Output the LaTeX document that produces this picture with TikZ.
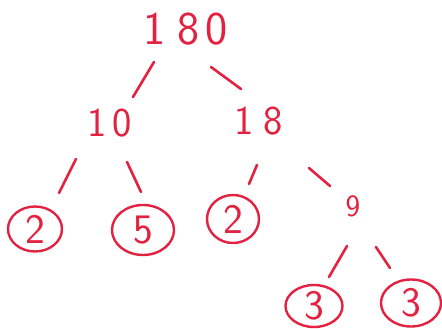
\documentclass[tikz,border=0pt]{standalone}
\usepackage{fontspec}
\usetikzlibrary{shapes.geometric}
\definecolor{ink}{RGB}{226,34,64}
\begin{document}
\begin{tikzpicture}[x=1pt,y=-1pt,
  num/.style={text=ink,font=\sffamily\fontsize{#1}{#1}\selectfont,inner sep=0pt},
  ring/.style={draw=ink,line width=2.4pt,ellipse,text=ink,font=\sffamily\fontsize{42}{42}\selectfont,inner sep=0pt},
  edge/.style={draw=ink,line width=2.6pt,line cap=round}]
\useasboundingbox (0,0) rectangle (442,329);
% numbers
\node[num=47] (n180) at (186,29) {1\kern12pt8\kern6pt0};
\node[num=41] (n10) at (110,123) {1\kern6pt0};
\node[num=41] (n18) at (259,121) {1\kern10pt8};
\node[num=31] (n9) at (353,206) {9};
\node[ring,minimum width=54pt,minimum height=45pt] (a2) at (35,229) {2};
\node[ring,minimum width=62pt,minimum height=50pt] (a5) at (143,230) {5};
\node[ring,minimum width=52pt,minimum height=48pt] (b2) at (233,219) {2};
\node[ring,minimum width=57pt,minimum height=42pt] (c3) at (314,306) {3};
\node[ring,minimum width=60pt,minimum height=47pt] (d3) at (411,303) {3};
% stroke ends
\coordinate (e1a) at (154,62);  \coordinate (e1b) at (133,97);
\coordinate (e2a) at (211,67);  \coordinate (e2b) at (241,89);
\coordinate (e3a) at (76,159);  \coordinate (e3b) at (59,193);
\coordinate (e4a) at (127,162); \coordinate (e4b) at (141,192);
\coordinate (e5a) at (257,165); \coordinate (e5b) at (249,184);
\coordinate (e6a) at (309,168); \coordinate (e6b) at (330,186);
\coordinate (e7a) at (347,246); \coordinate (e7b) at (329,277);
\coordinate (e8a) at (376,247); \coordinate (e8b) at (390,268);
\draw[edge] (e1a) -- (e1b);
\draw[edge] (e2a) -- (e2b);
\draw[edge] (e3a) -- (e3b);
\draw[edge] (e4a) -- (e4b);
\draw[edge] (e5a) -- (e5b);
\draw[edge] (e6a) -- (e6b);
\draw[edge] (e7a) -- (e7b);
\draw[edge] (e8a) -- (e8b);
\end{tikzpicture}
\end{document}
